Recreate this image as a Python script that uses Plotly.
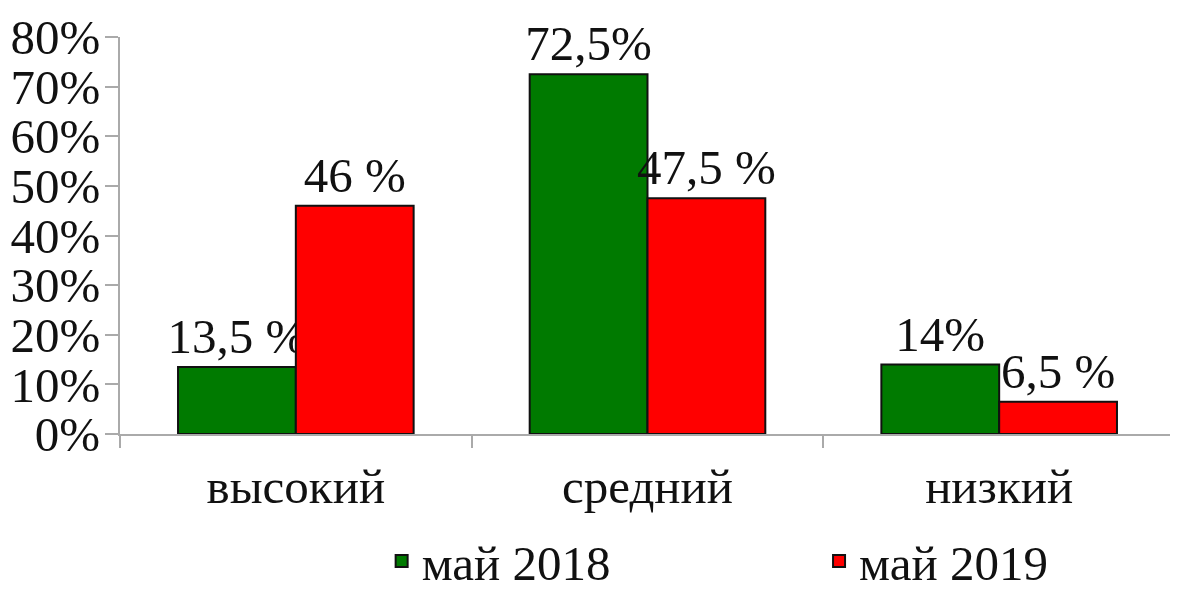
import plotly.graph_objects as go

categories = ["высокий", "средний", "низкий"]
series_names = ["май 2018", "май 2019"]
values_2018 = [13.5, 72.5, 14]
values_2019 = [46, 47.5, 6.5]
labels_2018 = ["13,5 %", "72,5%", "14%"]
labels_2019 = ["46 %", "47,5 %", "6,5 %"]
y_ticks = [0, 10, 20, 30, 40, 50, 60, 70, 80]

FONT = "Liberation Serif, Times New Roman, serif"
FS = 49

fig = go.Figure()
for name, vals, labs, col, leg in [
    (series_names[0], values_2018, labels_2018, "#007A00", "legend"),
    (series_names[1], values_2019, labels_2019, "#FF0000", "legend2"),
]:
    fig.add_trace(go.Bar(
        x=categories, y=vals, name=name, text=labs, legend=leg,
        texttemplate="%{text}", textposition="outside",
        constraintext="none", cliponaxis=False,
        textfont=dict(family=FONT, size=FS, color="#111"),
        marker=dict(color=col, line=dict(color="#111", width=2)),
    ))

leg_common = dict(
    orientation="h", y=-0.32, xanchor="left", yanchor="middle",
    font=dict(family=FONT, size=FS, color="#111"),
    bgcolor="rgba(0,0,0,0)",
)
fig.update_layout(
    width=1170, height=584,
    margin=dict(l=112, r=3, t=29, b=158, autoexpand=False),
    paper_bgcolor="white", plot_bgcolor="white",
    barmode="group", bargap=0.33, bargroupgap=0,
    font=dict(family=FONT, size=FS, color="#111"),
    showlegend=True,
    legend=dict(x=0.248, **leg_common),
    legend2=dict(x=0.6626, **leg_common),
)
fig.update_yaxes(
    range=[0, 80], tickvals=y_ticks, ticktext=[f"{v}%" for v in y_ticks],
    showgrid=False, zeroline=False, showline=True, linecolor="#AAAAAA", linewidth=2,
    ticks="outside", ticklen=13, tickcolor="#AAAAAA", tickwidth=2,
    ticklabelstandoff=-5, ticklabeloverflow="allow",
    tickfont=dict(family=FONT, size=FS, color="#111"), automargin=False,
)
fig.update_xaxes(
    showgrid=False, showline=True, linecolor="#AAAAAA", linewidth=2,
    ticks="outside", tickson="boundaries", ticklen=12, tickcolor="#AAAAAA", tickwidth=2,
    ticklabelstandoff=8, automargin=False, ticklabeloverflow="allow",
    tickfont=dict(family=FONT, size=FS, color="#111"),
)

fig.write_html("out.html")
